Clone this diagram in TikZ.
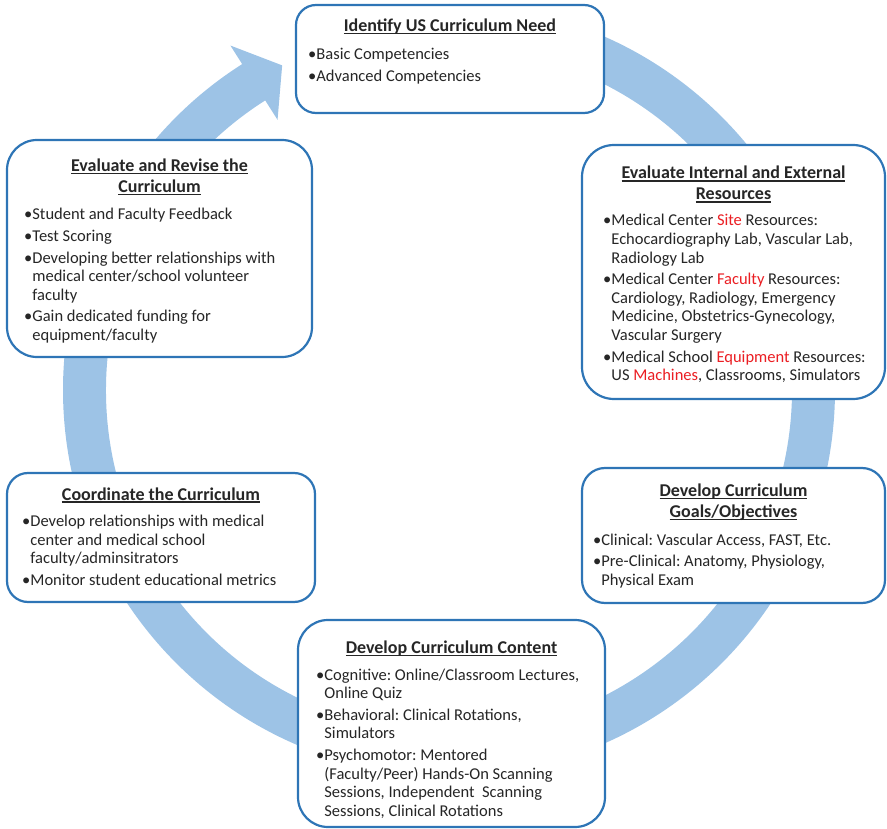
\documentclass[tikz,border=0pt]{standalone}
\usepackage{fontspec}
\setmainfont{Carlito}
\frenchspacing

\definecolor{ringblue}{RGB}{157,195,230}
\definecolor{edgeblue}{RGB}{46,117,182}
\definecolor{ink}{RGB}{38,38,38}
\definecolor{accentred}{RGB}{235,30,35}

% underline drawn at a fixed depth, crossing descenders
\newsavebox\ulinebox
\newcommand\ulin[1]{\leavevmode\sbox\ulinebox{#1}\rlap{\rule[-2.6pt]{\wd\ulinebox}{1.2pt}}\usebox\ulinebox}
% bulleted entry with hanging indent
\newsavebox\bulletbox
\newcommand\itm{\par\sbox\bulletbox{•}\hangindent=\wd\bulletbox\hangafter=1
  \noindent\usebox\bulletbox\parskip=3pt\relax}
\newcommand\redword[1]{\textcolor{accentred}{#1}}
\newcommand\bodytext[1]{\parbox[t]{290pt}{\frenchspacing\fontsize{16.5}{18.6}\selectfont #1}}
\newcommand\titletext[1]{\parbox[t]{300pt}{\centering\fontsize{18}{21}\selectfont\bfseries #1}}

\tikzset{
  stage/.style={draw=edgeblue, line width=2.2pt, fill=white, rectangle, inner sep=0pt},
  heading/.style={anchor=base, inner sep=0pt, text=ink},
  items/.style={anchor=base west, inner sep=0pt, text=ink},
}

\begin{document}
\begin{tikzpicture}[x=1pt, y=-1pt]
\useasboundingbox (0,0) rectangle (887,829);

% circular cycle arrow behind the stages
\begin{scope}[shift={(449,390)}, x=1pt, y=1pt]
  \fill[ringblue] (90:386) arc[start angle=90, end angle=-237.6, radius=386]
    -- (122.4:408) -- (117.2:365) -- (122.4:320) -- (122.4:343)
    arc[start angle=122.4, end angle=450, radius=343] -- cycle;
\end{scope}

% stage boxes
\node[stage, rounded corners=20pt, minimum width=308pt, minimum height=108pt] (need) at (450,59) {};
\node[stage, rounded corners=32pt, minimum width=303pt, minimum height=254pt] (resources) at (733.5,272) {};
\node[stage, rounded corners=23pt, minimum width=303pt, minimum height=135pt] (goals) at (733.5,535.5) {};
\node[stage, rounded corners=30pt, minimum width=307pt, minimum height=207pt] (content) at (451.5,723.5) {};
\node[stage, rounded corners=21pt, minimum width=308pt, minimum height=129pt] (coord) at (161,537.5) {};
\node[stage, rounded corners=30pt, minimum width=305pt, minimum height=217pt] (revise) at (159.5,248.5) {};

% headings
\node[heading] (needT) at (450,31.7) {\titletext{\ulin{Identify US Curriculum Need}}};
\node[heading] (resourcesT) at (733.5,179) {\titletext{\ulin{Evaluate Internal and External}\\\ulin{Resources}}};
\node[heading] (goalsT) at (733.5,496.7) {\titletext{\ulin{Develop Curriculum}\\\ulin{Goals/Objectives}}};
\node[heading] (contentT) at (451.5,653.3) {\titletext{\ulin{Develop Curriculum Content}}};
\node[heading] (coordT) at (161,500) {\titletext{\ulin{Coordinate the Curriculum}}};
\node[heading] (reviseT) at (159.5,171.7) {\titletext{\ulin{Evaluate and Revise the}\\\ulin{Curriculum}}};

% bullet lists
\node[items] (needL) at (308,60) {\bodytext{%
  \itm Basic Competencies
  \itm Advanced Competencies}};
\node[items] (resourcesL) at (603,226) {\bodytext{%
  \itm Medical Center \redword{Site} Resources:\\Echocardiography Lab, Vascular Lab,\\Radiology Lab
  \itm Medical Center \redword{Faculty} Resources:\\Cardiology, Radiology, Emergency\\Medicine, Obstetrics-Gynecology,\\Vascular Surgery
  \itm Medical School \redword{Equipment} Resources:\\US \redword{Machines}, Classrooms, Simulators}};
\node[items] (goalsL) at (593,545) {\bodytext{%
  \itm Clinical: Vascular Access, FAST, Etc.
  \itm Pre-Clinical: Anatomy, Physiology,\\Physical Exam}};
\node[items] (contentL) at (316,680) {\bodytext{%
  \itm Cognitive: Online/Classroom Lectures,\\Online Quiz
  \itm Behavioral: Clinical Rotations,\\Simulators
  \itm Psychomotor: Mentored\\(Faculty/Peer) Hands-On Scanning\\Sessions, Independent\ \ Scanning\\Sessions, Clinical Rotations}};
\node[items] (coordL) at (22,526.7) {\bodytext{%
  \itm Develop relationships with medical\\center and medical school\\faculty/adminsitrators
  \itm Monitor student educational metrics}};
\node[items] (reviseL) at (24,220) {\bodytext{%
  \itm Student and Faculty Feedback
  \itm Test Scoring
  \itm Developing better relationships with\\medical center/school volunteer\\faculty
  \itm Gain dedicated funding for\\equipment/faculty}};
\end{tikzpicture}
\end{document}
